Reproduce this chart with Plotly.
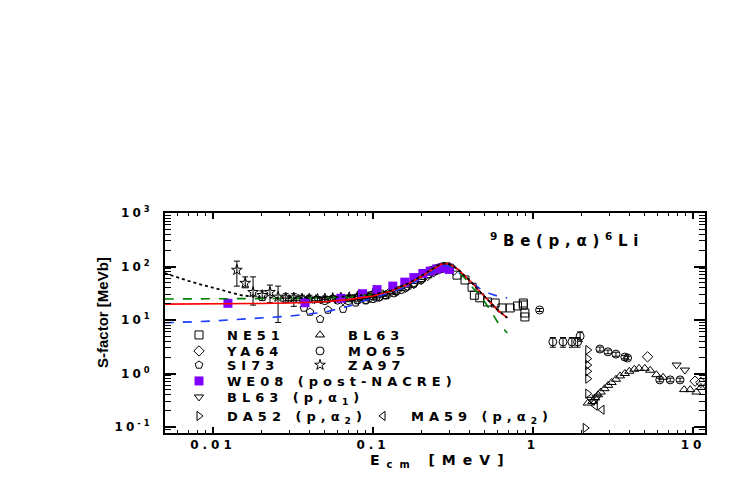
import plotly.graph_objects as go

# ---------------- data ----------------
curve_E = [0.005, 0.006, 0.007, 0.008, 0.01, 0.012, 0.015, 0.02, 0.03, 0.05, 0.07, 0.1, 0.13,
           0.16, 0.19, 0.22, 0.25, 0.27, 0.29, 0.31, 0.34, 0.38, 0.42, 0.47, 0.54, 0.6, 0.69]
red_S = [19.8, 19.8, 19.9, 19.9, 20, 20.1, 20.2, 20.4, 20.8, 22, 24, 28, 35,
         45, 59, 78, 100, 112, 114, 105, 88, 64, 48, 33, 21, 15.5, 11]
green_S = [24.7, 24.7, 24.7, 24.7, 24.8, 24.8, 24.9, 25, 25.3, 26, 27, 30, 36,
           46, 60, 80, 102, 114, 115, 103, 82, 58, 40, 28, 15.5, 9.2, 5.7]
blue_S = [8.9, 9.0, 9.2, 9.3, 9.6, 9.9, 10.3, 10.8, 11.8, 14, 18, 26, 33,
          42, 55, 72, 92, 102, 104, 97, 78, 60, 48, 38, 31, 28, 25.8]
dot_S = [75, 62, 54, 48, 40, 34, 29, 26.5, 25.5, 26, 27.5, 30, 36,
         46, 60, 80, 102, 113, 114, 105, 88, 64, 48, 33, 21, 15.5, 11]

ne51_E = [0.2, 0.22, 0.24, 0.26, 0.28, 0.3, 0.335, 0.376, 0.416, 0.43, 0.465, 0.52, 0.58,
          0.64, 0.72, 0.80, 0.87, 0.87, 0.89, 0.89]
ne51_S = [62, 73, 84, 92, 98, 93, 69, 56, 41, 29, 26, 21.7, 20.8, 16.8, 16.8, 18.3, 20.8, 19.1, 13.5, 11.4]

bl63_E = [0.03, 0.034, 0.039, 0.044, 0.05, 0.056, 0.063, 0.071, 0.08, 0.09, 0.1, 0.115, 0.13,
          2.2, 2.35, 2.45, 2.55, 2.65, 2.8, 2.95, 3.1, 3.3, 3.5, 3.75, 4.0, 4.3, 4.6, 5.0, 5.4,
          5.9, 6.5, 8.8, 9.6, 10.5, 11.2]
bl63_S = [25, 25.5, 24.5, 25, 24, 25.5, 26, 25.5, 26.5, 27, 29, 31, 34,
          0.28, 0.3, 0.35, 0.4, 0.45, 0.52, 0.6, 0.68, 0.78, 0.9, 1.0, 1.1, 1.2, 1.25, 1.25, 1.15,
          0.95, 0.85, 0.5, 0.5, 0.45, 0.55]

ya64_E = [0.065, 0.08, 0.095, 0.11, 0.125, 0.14, 0.16, 0.18, 0.2, 0.22, 0.24, 0.26, 0.3, 0.32,
          5.2, 10.3, 11.2]
ya64_S = [24, 25, 26, 28, 31, 35, 41, 48, 57, 68, 80, 90, 96, 85, 2.05, 0.72, 0.68]

mo65_E = [0.05, 0.06, 0.07, 0.08, 0.09, 0.1, 0.11, 0.12, 0.135, 0.15, 0.165, 0.18, 0.2, 0.22,
          0.24, 0.26, 0.28, 1.1, 1.33, 1.54, 1.75, 1.9, 1.97, 2.62, 2.94, 3.3, 3.75, 3.9,
          6.2, 7.2, 8.3]
mo65_S = [23, 23.5, 23, 23.5, 24, 25, 27, 29, 32, 37, 43, 50, 60, 72, 84, 94, 100, 15.4,
          3.9, 3.9, 3.9, 3.9, 5.0, 2.87, 2.54, 2.3, 2.03, 1.95, 0.76, 0.76, 0.76]
mo65_err = [1, 1, 1, 1, 1, 1, 1, 1, 1.5, 1.5, 2, 2, 3, 3, 4, 4, 4, 1, 0.8, 0.8, 0.8, 0.8, 1.0,
            0.25, 0.2, 0.2, 0.15, 0.15, 0.06, 0.06, 0.06]

si73_E = [0.037, 0.0404, 0.0467, 0.0523, 0.065, 0.078, 0.09, 0.105, 0.12, 0.14, 0.16, 0.18, 0.2]
si73_S = [16.8, 14.1, 10.4, 15.4, 16, 21, 23, 26, 29, 34, 40, 47, 56]

za97_E = [0.0141, 0.0159, 0.0178, 0.0203, 0.0227, 0.0255, 0.0285, 0.032, 0.036, 0.040, 0.045,
          0.05, 0.056, 0.063, 0.071, 0.08, 0.09, 0.1]
za97_S = [86, 49, 33, 29, 33, 27, 26, 26, 25, 25, 24.5, 25, 25.5, 26, 26.5, 27.5, 29, 31]
za97_ep = [40, 15, 31, 6, 12, 16, 5, 5, 4, 4, 3, 3, 3, 3, 3, 3, 3, 3]
za97_em = [43, 9, 14, 6, 12, 18, 5, 8, 4, 4, 3, 3, 3, 3, 3, 3, 3, 3]

we08_E = [0.0124, 0.0376, 0.063, 0.086, 0.106, 0.133, 0.158, 0.18, 0.205, 0.228, 0.25, 0.27, 0.29, 0.3]
we08_S = [20.5, 21, 25.5, 31, 37, 43, 51, 62, 74, 82, 90, 94, 94, 88]
we08_err = [2, 2, 2, 2.5, 3, 3.5, 4, 5, 6, 6.5, 7, 7.5, 7.5, 7]

bl63a1_E = [2.3, 2.4, 2.5, 7.9, 8.9]
bl63a1_S = [0.33, 0.3, 0.36, 1.44, 1.16]

da52_E = [2.2, 2.2, 2.2, 2.2, 2.2, 2.2, 2.12]
da52_S = [2.75, 1.9, 1.44, 1.1, 0.8, 0.42, 0.096]

ma59_E = [2.45, 2.7]
ma59_S = [0.25, 0.21]

x_tickvals = [0.01, 0.1, 1, 10]
x_ticktext = ["0.01", "0.1", "1", "10"]
y_tickvals = [0.1, 1, 10, 100, 1000]
y_ticktext = ["10<sup>-1</sup>", "10<sup>0</sup>", "10<sup>1</sup>", "10<sup>2</sup>", "10<sup>3</sup>"]

# ---------------- helpers ----------------
W, H = 747, 485
L, R, T, B = 157, 50, 205, 60
PW, PH = W - L - R, H - T - B
OFF = 8  # page offset of the figure in the screenshot


def sp(t, ls):
    return '<span style="letter-spacing:%spx">%s</span>' % (ls, t)


def px2paper(x, y):
    return (x - OFF - L) / PW, (H - B - (y - OFF)) / PH


FONT = "DejaVu Sans"
LEG_LS = 5

fig = go.Figure()

# data sets: (name, E, S, symbol, legend id, symbol screen position, err)
datasets = [
    ("NE51", ne51_E, ne51_S, "square-open", "legend", (199, 335), None),
    ("BL63", bl63_E, bl63_S, "triangle-up-open", "legend2", (320, 335), None),
    ("YA64", ya64_E, ya64_S, "diamond-open", "legend3", (199, 351), None),
    ("MO65", mo65_E, mo65_S, "circle-open", "legend4", (320, 351), (mo65_err, mo65_err)),
    ("SI73", si73_E, si73_S, "pentagon-open", "legend5", (199, 365), None),
    ("ZA97", za97_E, za97_S, "star-open", "legend6", (320, 365), (za97_ep, za97_em)),
    ("BL63 (p,α<sub>1</sub>)", bl63a1_E, bl63a1_S, "triangle-down-open", "legend8", (199, 397), None),
    ("DA52 (p,α<sub>2</sub>)", da52_E, da52_S, "triangle-right-open", "legend9", (199, 416), None),
    ("MA59 (p,α<sub>2</sub>)", ma59_E, ma59_S, "triangle-left-open", "legend10", (383, 416), None),
]

legend_layouts = {}
for name, E, S, sym, leg, pos, err in datasets:
    kw = {}
    if err is not None:
        kw["error_y"] = dict(type="data", symmetric=False, array=err[0], arrayminus=err[1],
                             color="black", thickness=1, width=3)
    fig.add_trace(go.Scatter(
        x=E, y=S, mode="markers", name=sp(name, LEG_LS), legend=leg,
        marker=dict(symbol=sym, size=8, color="black", line=dict(color="black", width=1)),
        **kw))
    legend_layouts[leg] = pos

# WE08 purple filled squares
fig.add_trace(go.Scatter(
    x=we08_E, y=we08_S, mode="markers", name=sp("WE08 (post-NACRE)", LEG_LS), legend="legend7",
    marker=dict(symbol="square", size=9, color="#8000ff", line=dict(color="#8000ff", width=0)),
    error_y=dict(type="data", array=we08_err, color="#8000ff", thickness=1, width=3)))
legend_layouts["legend7"] = (199, 381)

# curves
fig.add_trace(go.Scatter(x=curve_E, y=blue_S, mode="lines", showlegend=False,
                         line=dict(color="#1a3cff", width=1.6, dash="dash")))
fig.add_trace(go.Scatter(x=curve_E, y=green_S, mode="lines", showlegend=False,
                         line=dict(color="#008000", width=1.6, dash="dash")))
fig.add_trace(go.Scatter(x=curve_E, y=red_S, mode="lines", showlegend=False,
                         line=dict(color="#ff0000", width=1.6)))
fig.add_trace(go.Scatter(x=curve_E, y=dot_S, mode="lines", showlegend=False,
                         line=dict(color="black", width=1.8, dash="dot")))

layout_legends = {}
for leg, (sx, sy) in legend_layouts.items():
    px_, py_ = px2paper(sx - 28, sy)
    layout_legends[leg] = dict(
        x=px_, y=py_, xanchor="left", yanchor="middle", bgcolor="rgba(0,0,0,0)",
        borderwidth=0, itemwidth=46,
        font=dict(family=FONT, size=13, color="black", weight="bold"),
        itemclick=False, itemdoubleclick=False)

fig.update_layout(
    width=W, height=H, margin=dict(l=L, r=R, t=T, b=B, autoexpand=False),
    paper_bgcolor="white", plot_bgcolor="white", **layout_legends)

axis_common = dict(showline=True, linecolor="black", linewidth=2, mirror="allticks",
                   ticks="inside", tickcolor="black", tickwidth=1.5, showgrid=False,
                   zeroline=False, tickmode="array")

fig.update_xaxes(type="log", range=[-2.3, 1.075], tickvals=x_tickvals,
                 ticktext=[sp(t, 4) for t in x_ticktext], ticklen=6,
                 tickfont=dict(family=FONT, size=12, color="black", weight="bold"),
                 minor=dict(ticks="inside", ticklen=3, tickwidth=1, tickcolor="black", dtick="D1"),
                 **axis_common)
fig.update_yaxes(type="log", range=[-1.112, 3.0], tickvals=y_tickvals,
                 ticktext=[sp(t, 3) for t in y_ticktext], ticklen=11, ticklabelstandoff=8,
                 tickfont=dict(family=FONT, size=12, color="black", weight="bold"),
                 minor=dict(ticks="inside", ticklen=6, tickwidth=1, tickcolor="black", dtick="D1"),
                 **axis_common)

# axis titles and reaction label (screen positions)
ax_x, ax_y = px2paper(440, 461)
fig.add_annotation(xref="paper", yref="paper", x=ax_x, y=ax_y, xanchor="center", yanchor="middle",
                   text=sp("E<sub>cm</sub> [MeV]", 7), showarrow=False,
                   font=dict(family=FONT, size=14, color="black", weight="bold"))
ay_x, ay_y = px2paper(102, 313)
fig.add_annotation(xref="paper", yref="paper", x=ay_x, y=ay_y, xanchor="center", yanchor="middle",
                   text="S-factor [MeVb]", textangle=-90, showarrow=False,
                   font=dict(family="Liberation Sans", size=15, color="black", weight="bold"))
tx, ty = px2paper(567, 240)
fig.add_annotation(xref="paper", yref="paper", x=tx, y=ty, xanchor="center", yanchor="middle",
                   text=sp("<sup>9</sup>Be(p,α)<sup>6</sup>Li", 5.7), showarrow=False,
                   font=dict(family=FONT, size=15, color="black", weight="bold"))

fig.write_html("out.html")
